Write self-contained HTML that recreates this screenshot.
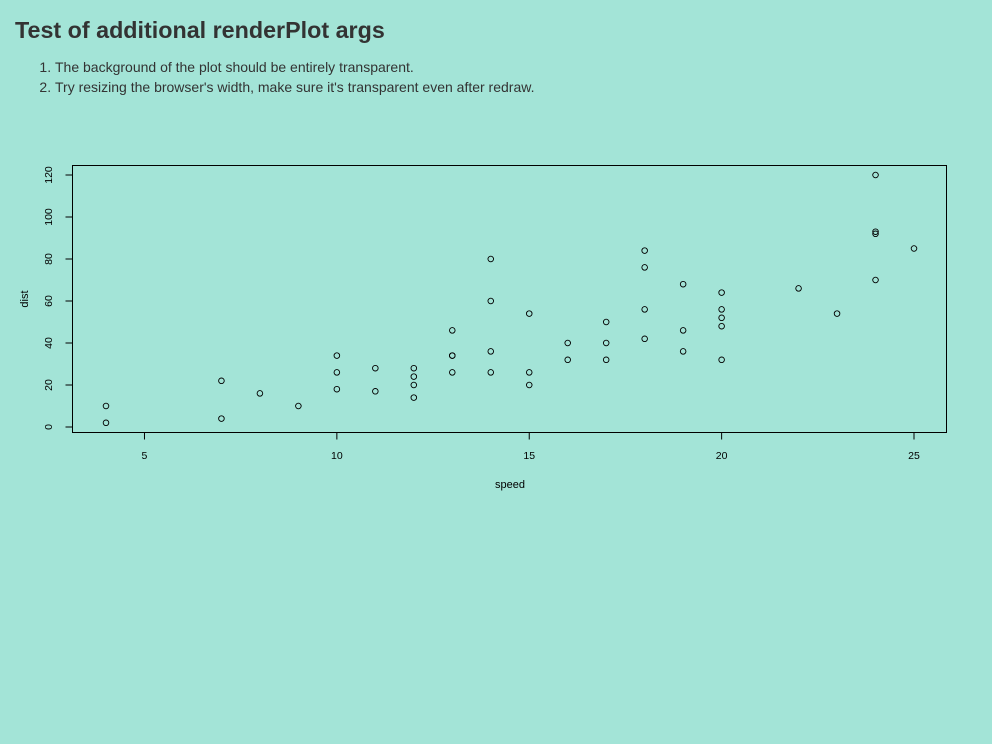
<!DOCTYPE html>
<html><head><meta charset="utf-8"><style>
html,body{margin:0;padding:0;background:#a3e4d7;width:992px;height:744px;overflow:hidden;font-family:"Liberation Sans",Arial,sans-serif;color:#333}
h1{position:absolute;left:15px;top:17px;margin:0;font-size:23.3px;font-weight:bold;color:#333}
ol{position:absolute;left:15px;top:57px;margin:0;padding-left:40px;font-size:14px;line-height:20px;color:#333}
li{padding-left:0}
svg{position:absolute;left:0;top:0}
</style></head><body>
<h1>Test of additional renderPlot args</h1>
<ol>
<li>The background of the plot should be entirely transparent.</li>
<li>Try resizing the browser's width, make sure it's transparent even after redraw.</li>
</ol>
<svg id="chart" width="992" height="744"></svg>
<script>
const speed=[4,4,7,7,8,9,10,10,10,11,11,12,12,12,12,13,13,13,13,14,14,14,14,15,15,15,16,16,17,17,17,18,18,18,18,19,19,19,20,20,20,20,20,22,23,24,24,24,24,25];
const dist=[2,10,4,22,16,10,18,26,34,17,28,14,20,24,28,26,34,34,46,26,36,60,80,20,26,54,32,40,32,40,50,42,56,76,84,36,46,68,32,48,52,56,64,66,54,70,92,93,120,85];
const xTicks=[5,10,15,20,25];
const yTicks=[0,20,40,60,80,100,120];
const NS="http://www.w3.org/2000/svg";
const svg=document.getElementById('chart');
const X=v=>106+(v-4)*(914-106)/21;
const Y=v=>427-v*(427-175)/120;
function mk(t,a,p){const e=document.createElementNS(NS,t);for(const k in a)e.setAttribute(k,a[k]);(p||svg).appendChild(e);return e;}
const box=mk('rect',{x:72.5,y:165.5,width:874,height:267,fill:'none',stroke:'#000','stroke-width':1});


const xa=mk('g',{});


mk('line',{x1:X(5),x2:X(25),y1:432.5,y2:432.5,stroke:'#000'},xa);
xTicks.forEach(t=>{mk('line',{x1:X(t),x2:X(t),y1:432.5,y2:439.5,stroke:'#000'},xa);
const tx=mk('text',{x:X(t),y:459,'font-size':10.5,'text-anchor':'middle',fill:'#000'},xa);tx.textContent=t;

});
const ya=mk('g',{});


mk('line',{x1:72.5,x2:72.5,y1:Y(0),y2:Y(120),stroke:'#000'},ya);
yTicks.forEach(t=>{mk('line',{x1:65.5,x2:72.5,y1:Y(t),y2:Y(t),stroke:'#000'},ya);
const tx=mk('text',{x:52,y:Y(t),'font-size':10.5,'text-anchor':'middle',fill:'#000',transform:`rotate(-90 52 ${Y(t)})`},ya);tx.textContent=t;

});
const xt=mk('text',{x:510,y:488,'font-size':11,'text-anchor':'middle',fill:'#000'});xt.textContent='speed';


const yt=mk('text',{x:28,y:299,'font-size':11,'text-anchor':'middle',fill:'#000',transform:'rotate(-90 28 299)'});yt.textContent='dist';


speed.forEach((s,i)=>{const c=mk('circle',{cx:X(s),cy:Y(dist[i]),r:2.8,fill:'none',stroke:'#000','stroke-width':0.9});

});
</script>
</body></html>
